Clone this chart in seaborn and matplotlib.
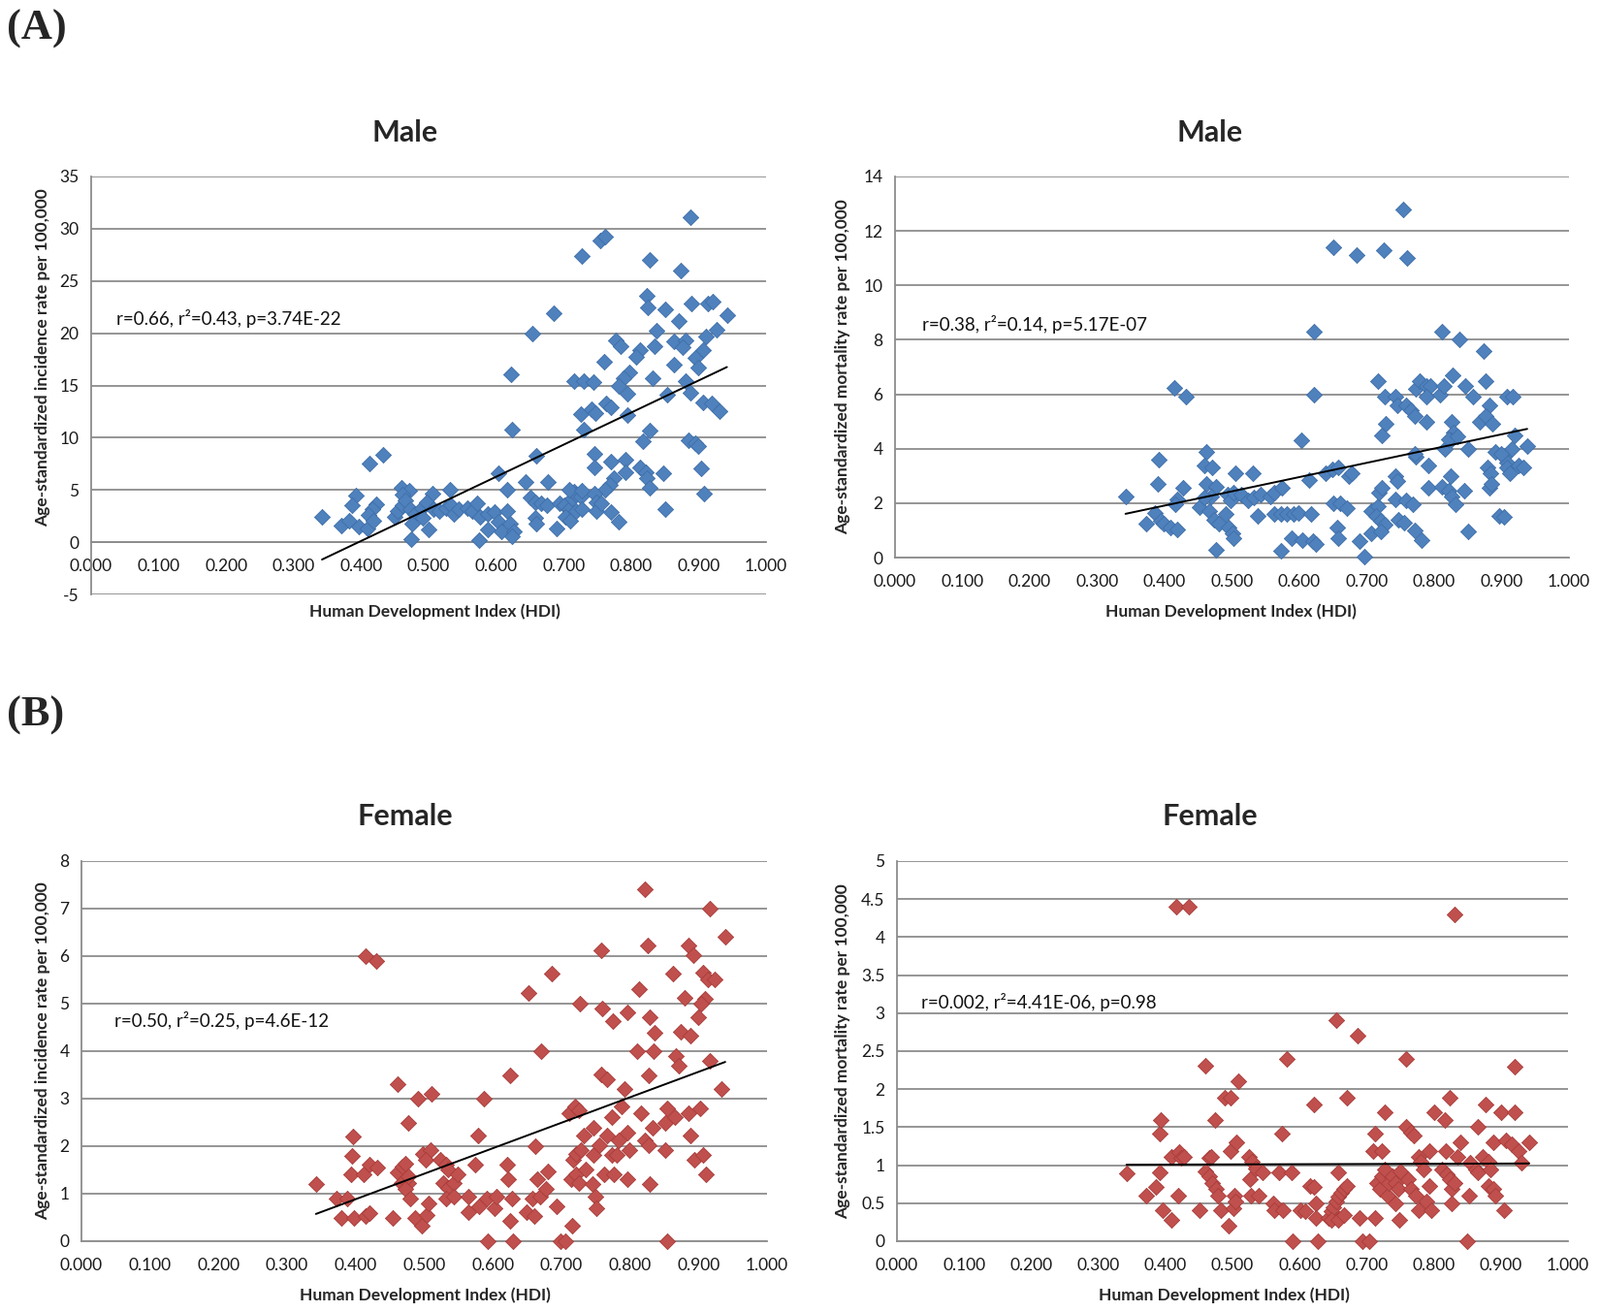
import numpy as np
import pandas as pd
import seaborn as sns
import matplotlib.pyplot as plt
from matplotlib.ticker import FuncFormatter

sns.set_style('white')
plt.rcParams['font.family'] = ['Lato', 'DejaVu Sans']

# (HDI, rate) pairs
male_incidence = [
    (0.888, 31.1), (0.754, 28.9), (0.761, 29.2), (0.727, 27.4), (0.828, 27.0), (0.873, 26.0),
    (0.823, 23.6), (0.825, 22.5), (0.850, 22.3), (0.889, 22.8), (0.914, 22.8), (0.921, 23.0),
    (0.942, 21.7), (0.686, 21.9), (0.653, 20.0), (0.870, 21.2), (0.837, 20.2), (0.926, 20.3),
    (0.911, 19.7), (0.777, 19.3), (0.785, 18.8), (0.835, 18.8), (0.864, 19.2), (0.881, 19.3),
    (0.876, 18.7), (0.813, 18.4), (0.807, 17.7), (0.907, 18.4), (0.760, 17.3), (0.895, 17.6),
    (0.900, 16.7), (0.864, 17.0), (0.797, 16.3), (0.789, 15.7), (0.782, 15.0), (0.622, 16.1),
    (0.715, 15.4), (0.730, 15.4), (0.744, 15.3), (0.832, 15.7), (0.881, 15.4), (0.888, 14.3),
    (0.794, 14.2), (0.854, 14.1), (0.763, 13.3), (0.770, 12.9), (0.725, 12.3), (0.742, 12.7),
    (0.747, 12.4), (0.907, 13.4), (0.919, 13.3), (0.931, 12.5), (0.794, 12.2), (0.730, 10.8),
    (0.623, 10.8), (0.828, 10.7), (0.818, 9.7), (0.885, 9.8), (0.895, 9.5), (0.900, 9.2),
    (0.433, 8.4), (0.412, 7.5), (0.659, 8.3), (0.745, 8.5), (0.745, 7.2), (0.770, 7.7),
    (0.792, 7.9), (0.792, 6.7), (0.813, 7.2), (0.822, 6.7), (0.823, 6.1), (0.828, 5.2),
    (0.847, 6.6), (0.903, 7.1), (0.603, 6.6), (0.643, 5.8), (0.676, 5.8), (0.908, 4.7),
    (0.775, 6.1), (0.768, 5.5), (0.761, 5.0), (0.617, 5.0), (0.531, 5.0), (0.506, 4.7),
    (0.459, 5.2), (0.471, 4.9), (0.461, 4.6), (0.392, 4.5), (0.387, 3.5), (0.423, 3.6),
    (0.416, 3.2), (0.342, 2.4), (0.370, 1.6), (0.382, 2.1), (0.397, 1.5), (0.409, 1.3),
    (0.411, 2.6), (0.418, 2.1), (0.449, 2.4), (0.454, 3.0), (0.461, 3.5), (0.466, 4.0),
    (0.473, 3.2), (0.480, 2.7), (0.476, 1.8), (0.474, 0.3), (0.490, 3.3), (0.497, 3.8),
    (0.492, 2.3), (0.500, 1.2), (0.507, 3.2), (0.516, 3.0), (0.526, 3.3), (0.533, 3.5),
    (0.538, 2.7), (0.545, 3.2), (0.557, 3.3), (0.564, 3.0), (0.572, 3.7), (0.576, 2.4),
    (0.574, 0.2), (0.588, 2.7), (0.598, 2.9), (0.603, 2.0), (0.588, 1.2), (0.607, 1.0),
    (0.617, 3.0), (0.620, 1.8), (0.627, 1.0), (0.624, 0.6), (0.651, 4.3), (0.658, 3.8),
    (0.667, 3.7), (0.675, 3.5), (0.658, 2.3), (0.660, 1.8), (0.689, 1.3), (0.694, 3.7),
    (0.701, 3.5), (0.708, 3.2), (0.713, 4.2), (0.715, 4.8), (0.718, 4.6), (0.725, 4.4),
    (0.703, 2.4), (0.710, 2.1), (0.718, 3.0), (0.727, 3.2), (0.708, 5.0), (0.727, 4.9),
    (0.746, 4.7), (0.749, 3.8), (0.749, 3.0), (0.756, 3.7), (0.770, 2.9), (0.782, 2.0),
    (0.851, 3.2),
]

male_mortality = [
    (0.754, 12.8), (0.651, 11.4), (0.685, 11.1), (0.725, 11.3), (0.760, 11.0), (0.621, 8.3),
    (0.811, 8.3), (0.837, 8.0), (0.873, 7.6), (0.414, 6.25), (0.432, 5.9), (0.621, 6.0),
    (0.716, 6.5), (0.876, 6.5), (0.726, 5.9), (0.742, 5.9), (0.745, 5.6), (0.759, 5.6),
    (0.766, 5.4), (0.771, 5.2), (0.773, 6.2), (0.779, 6.5), (0.789, 6.3), (0.794, 6.3),
    (0.789, 5.9), (0.808, 6.0), (0.815, 6.3), (0.827, 6.7), (0.846, 6.3), (0.858, 5.9),
    (0.882, 5.6), (0.908, 5.9), (0.789, 5.0), (0.826, 5.0), (0.867, 5.0), (0.876, 5.2),
    (0.886, 4.9), (0.728, 4.9), (0.723, 4.5), (0.603, 4.3), (0.829, 4.6), (0.824, 4.3),
    (0.891, 3.9), (0.903, 3.7), (0.908, 3.5), (0.816, 4.0), (0.850, 4.0), (0.773, 3.7),
    (0.792, 3.4), (0.879, 3.3), (0.884, 3.1), (0.908, 3.3), (0.912, 3.1), (0.462, 3.9),
    (0.459, 3.4), (0.471, 3.3), (0.392, 3.6), (0.390, 2.7), (0.505, 3.1), (0.531, 3.1),
    (0.462, 2.7), (0.476, 2.6), (0.469, 2.25), (0.428, 2.55), (0.418, 2.15), (0.416, 1.95),
    (0.342, 2.25), (0.385, 1.65), (0.373, 1.25), (0.394, 1.35), (0.399, 1.25), (0.409, 1.1),
    (0.418, 1.05), (0.452, 1.85), (0.459, 2.2), (0.466, 1.7), (0.474, 1.4), (0.481, 1.25),
    (0.490, 1.6), (0.493, 2.3), (0.498, 2.1), (0.502, 2.4), (0.495, 1.1), (0.500, 0.9),
    (0.502, 0.7), (0.476, 0.3), (0.514, 2.3), (0.524, 2.1), (0.533, 2.2), (0.543, 2.3),
    (0.557, 2.25), (0.562, 2.4), (0.574, 2.55), (0.538, 1.55), (0.562, 1.6), (0.572, 1.6),
    (0.581, 1.6), (0.591, 1.6), (0.598, 1.65), (0.617, 1.6), (0.572, 0.25), (0.589, 0.7),
    (0.605, 0.65), (0.620, 0.6), (0.624, 0.5), (0.615, 2.85), (0.639, 3.1), (0.649, 3.25),
    (0.658, 3.3), (0.673, 3.0), (0.678, 3.1), (0.651, 2.0), (0.661, 2.0), (0.670, 1.8),
    (0.656, 1.1), (0.658, 0.7), (0.689, 0.6), (0.706, 0.9), (0.696, 0.05), (0.706, 1.7),
    (0.716, 1.9), (0.718, 2.4), (0.723, 2.55), (0.714, 1.55), (0.721, 1.35), (0.726, 1.2),
    (0.721, 0.95), (0.742, 3.0), (0.745, 2.8), (0.742, 2.15), (0.759, 2.1), (0.768, 1.95),
    (0.747, 1.4), (0.756, 1.3), (0.771, 1.0), (0.782, 0.65), (0.771, 3.8), (0.792, 2.55),
    (0.811, 2.6), (0.821, 2.45), (0.826, 2.25), (0.831, 1.95), (0.824, 3.0), (0.845, 2.45),
    (0.850, 0.95), (0.882, 2.55), (0.885, 2.7), (0.897, 1.55), (0.821, 4.35), (0.835, 4.45),
    (0.917, 5.9), (0.938, 4.1), (0.925, 3.4), (0.932, 3.3), (0.903, 1.5), (0.920, 4.5),
    (0.915, 4.0), (0.900, 3.8),
]

female_incidence = [
    (0.822, 7.41), (0.917, 7.0), (0.939, 6.4), (0.414, 6.0), (0.430, 5.9), (0.758, 6.12),
    (0.826, 6.22), (0.885, 6.22), (0.892, 6.02), (0.863, 5.63), (0.907, 5.65), (0.914, 5.51),
    (0.923, 5.51), (0.686, 5.63), (0.652, 5.22), (0.813, 5.31), (0.880, 5.12), (0.909, 5.1),
    (0.904, 5.0), (0.727, 5.0), (0.759, 4.9), (0.775, 4.63), (0.796, 4.82), (0.900, 4.71),
    (0.829, 4.71), (0.836, 4.39), (0.874, 4.41), (0.888, 4.32), (0.811, 4.0), (0.834, 4.0),
    (0.671, 4.0), (0.867, 3.9), (0.871, 3.7), (0.917, 3.8),
    (0.342, 1.21), (0.372, 0.9), (0.387, 0.9), (0.396, 2.21), (0.394, 1.79), (0.393, 1.40),
    (0.379, 0.49), (0.398, 0.49), (0.411, 1.40), (0.415, 0.52), (0.420, 0.59), (0.420, 1.61),
    (0.431, 1.54), (0.454, 0.49), (0.461, 3.30), (0.461, 1.44), (0.468, 1.57), (0.472, 1.64),
    (0.467, 1.23), (0.476, 1.23), (0.472, 1.1), (0.480, 0.9), (0.476, 1.37), (0.476, 2.49),
    (0.491, 3.0), (0.511, 3.1), (0.498, 1.84), (0.509, 1.91), (0.502, 1.71), (0.487, 0.49),
    (0.497, 0.32), (0.504, 0.56), (0.506, 0.79), (0.524, 1.71), (0.532, 1.61), (0.535, 1.5),
    (0.528, 1.23), (0.535, 1.13), (0.543, 1.23), (0.532, 0.9), (0.543, 0.93), (0.549, 1.40),
    (0.565, 0.93), (0.565, 0.62), (0.574, 1.61), (0.578, 2.22), (0.580, 0.73), (0.587, 3.0),
    (0.591, 0.9), (0.593, 0.0), (0.602, 0.69), (0.606, 0.93), (0.621, 1.61), (0.622, 1.30),
    (0.625, 3.48), (0.628, 0.9), (0.625, 0.42), (0.630, 0.0), (0.649, 0.62), (0.658, 0.9),
    (0.660, 0.52), (0.662, 2.0), (0.665, 1.3), (0.669, 0.93), (0.677, 1.1), (0.680, 1.47),
    (0.693, 0.73), (0.699, 0.0), (0.706, 0.0), (0.715, 0.32), (0.712, 2.69), (0.720, 2.83),
    (0.725, 2.76), (0.714, 1.30), (0.721, 1.40), (0.725, 1.23), (0.717, 1.71), (0.721, 1.84),
    (0.729, 1.91), (0.732, 2.22), (0.736, 1.5), (0.747, 2.39), (0.745, 1.20), (0.749, 0.93),
    (0.751, 0.69), (0.747, 1.81), (0.755, 2.01), (0.758, 3.51), (0.766, 3.40), (0.762, 1.40),
    (0.766, 2.22), (0.773, 2.62), (0.773, 1.81), (0.781, 1.81), (0.777, 1.40), (0.784, 2.12),
    (0.788, 2.83), (0.792, 3.2), (0.796, 2.28), (0.799, 1.91), (0.796, 1.30), (0.816, 2.69),
    (0.822, 2.12), (0.827, 2.01), (0.828, 3.48), (0.829, 1.20), (0.833, 2.39), (0.851, 2.49),
    (0.855, 2.79), (0.851, 1.91), (0.854, 0.0), (0.866, 2.62), (0.885, 2.69), (0.888, 2.22),
    (0.894, 1.71), (0.907, 1.81), (0.903, 2.79), (0.911, 1.40), (0.933, 3.2),
]

female_mortality = [
    (0.416, 4.40), (0.435, 4.40), (0.831, 4.30), (0.654, 2.91), (0.686, 2.70),
    (0.342, 0.89), (0.372, 0.60), (0.386, 0.71), (0.391, 0.90), (0.391, 1.41), (0.393, 1.60),
    (0.396, 0.41), (0.409, 0.28), (0.409, 1.11), (0.420, 1.17), (0.424, 1.09), (0.428, 1.11),
    (0.419, 0.60), (0.451, 0.41), (0.459, 2.31), (0.459, 0.92), (0.465, 1.09), (0.468, 1.11),
    (0.466, 0.86), (0.470, 0.77), (0.475, 0.69), (0.479, 0.60), (0.474, 1.60), (0.482, 0.41),
    (0.489, 1.89), (0.497, 1.89), (0.494, 0.20), (0.497, 1.19), (0.501, 0.43), (0.503, 0.60),
    (0.505, 0.52), (0.506, 1.30), (0.509, 2.11), (0.524, 1.11), (0.529, 1.05), (0.534, 0.96),
    (0.526, 0.81), (0.528, 0.60), (0.539, 0.60), (0.545, 0.90), (0.560, 0.50), (0.562, 0.41),
    (0.570, 0.90), (0.588, 0.90), (0.574, 1.41), (0.575, 0.41), (0.581, 2.40), (0.589, 0.0),
    (0.601, 0.41), (0.608, 0.39), (0.616, 0.73), (0.621, 0.71), (0.622, 1.80), (0.624, 0.50),
    (0.624, 0.31), (0.627, 0.0), (0.643, 0.31), (0.647, 0.39), (0.651, 0.45), (0.654, 0.52),
    (0.658, 0.58), (0.662, 0.64), (0.666, 0.69), (0.670, 0.73), (0.658, 0.90), (0.647, 0.28),
    (0.658, 0.28), (0.666, 0.35), (0.671, 1.89), (0.689, 0.31), (0.693, 0.0), (0.704, 0.0),
    (0.712, 0.31), (0.712, 1.41), (0.710, 1.19), (0.723, 1.19), (0.716, 0.77), (0.720, 0.69),
    (0.723, 0.86), (0.727, 0.94), (0.731, 0.60), (0.733, 0.77), (0.727, 1.70), (0.739, 0.86),
    (0.743, 0.77), (0.747, 0.69), (0.750, 0.92), (0.743, 0.50), (0.748, 0.28), (0.758, 1.51),
    (0.766, 1.43), (0.770, 1.39), (0.762, 0.81), (0.766, 0.69), (0.773, 0.60), (0.777, 1.11),
    (0.781, 1.05), (0.785, 0.94), (0.777, 0.41), (0.789, 0.52), (0.793, 0.73), (0.793, 1.19),
    (0.796, 0.41), (0.800, 1.70), (0.816, 1.60), (0.818, 1.19), (0.812, 0.94), (0.819, 0.88),
    (0.823, 0.81), (0.827, 0.69), (0.831, 0.77), (0.823, 1.89), (0.826, 0.50), (0.835, 1.11),
    (0.839, 1.30), (0.850, 0.0), (0.852, 0.60), (0.854, 1.03), (0.862, 0.94), (0.866, 0.90),
    (0.866, 1.51), (0.873, 1.11), (0.881, 1.05), (0.885, 0.94), (0.877, 1.80), (0.881, 0.73),
    (0.889, 0.69), (0.892, 0.60), (0.889, 1.30), (0.900, 1.70), (0.921, 1.70), (0.904, 0.41),
    (0.908, 1.32), (0.916, 1.28), (0.927, 1.19), (0.931, 1.03), (0.942, 1.30), (0.758, 2.40),
    (0.921, 2.30),
]

panel_titles = ['Male', 'Male', 'Female', 'Female']
stat_texts = ['r=0.66, r\u00b2=0.43, p=3.74E-22',
              'r=0.38, r\u00b2=0.14, p=5.17E-07',
              'r=0.50, r\u00b2=0.25, p=4.6E-12',
              'r=0.002, r\u00b2=4.41E-06, p=0.98']
y_labels = ['Age-standardized incidence rate per 100,000',
            'Age-standardized mortality rate per 100,000',
            'Age-standardized incidence rate per 100,000',
            'Age-standardized mortality rate per 100,000']
x_label = 'Human Development Index (HDI)'

BLUE = '#4f81bd'
RED = '#c0504d'
GRID = '#8c8c8c'

fig = plt.figure(figsize=(16.5, 13.53), dpi=100)

panels = [
    # data, colour, edge, axes rect, yticks, text pos, xlabel pos, ylabel pos
    (male_incidence, BLUE, '#3f6fa8', [0.0570, 0.5469, 0.4218, 0.3186], np.arange(-5, 36, 5),
     (0.037, 0.661), (0.509, -0.042), (-0.072, 0.568)),
    (male_mortality, BLUE, '#3f6fa8', [0.5594, 0.5750, 0.4212, 0.2905], np.arange(0, 15, 2),
     (0.040, 0.613), (0.499, -0.142), (-0.078, 0.5)),
    (female_incidence, RED, '#a83c3a', [0.0509, 0.0540, 0.4285, 0.2897], np.arange(0, 9, 1),
     (0.048, 0.580), (0.502, -0.143), (-0.057, 0.5)),
    (female_mortality, RED, '#a83c3a', [0.5606, 0.0540, 0.4194, 0.2897], np.arange(0, 5.01, 0.5),
     (0.036, 0.630), (0.487, -0.143), (-0.081, 0.5)),
]

for i, (pairs, col, edge, rect, yticks, tpos, xlpos, ylpos) in enumerate(panels):
    df = pd.DataFrame(pairs, columns=['hdi', 'rate'])
    ax = fig.add_axes(rect)
    sns.regplot(data=df, x='hdi', y='rate', ax=ax, ci=None, marker='D',
                scatter_kws=dict(s=68, color=col, edgecolors=edge, linewidths=0.6,
                                 alpha=1, clip_on=False, zorder=3),
                line_kws=dict(color='black', lw=1.4, zorder=4))
    ax.set_xlim(0, 1.0)
    ax.set_ylim(yticks[0], yticks[-1])
    ax.set_xticks(np.arange(0, 1.01, 0.1))
    ax.set_yticks(yticks)
    ax.xaxis.set_major_formatter(FuncFormatter(lambda v, p: '%.3f' % v))
    ax.yaxis.set_major_formatter(FuncFormatter(lambda v, p: '%g' % v))
    ax.yaxis.grid(True, color=GRID, lw=1.3)
    ax.xaxis.grid(False)
    ax.set_axisbelow(True)
    for s in ['top', 'right']:
        ax.spines[s].set_visible(False)
    for s in ['left', 'bottom']:
        ax.spines[s].set_color(GRID)
        ax.spines[s].set_linewidth(1.3)
    if yticks[0] < 0:
        ax.spines['bottom'].set_position(('data', 0))
    ax.tick_params(axis='both', direction='out', length=5, width=1, color=GRID,
                   labelsize=12.5, labelcolor='#1a1a1a', pad=4)
    ax.tick_params(axis='x', pad=7)

    ax.set_xlabel(x_label, fontsize=12.5, fontweight='bold', va='center')
    ax.xaxis.set_label_coords(*xlpos)
    ax.set_ylabel(y_labels[i], fontsize=12.5, fontweight='bold', va='center')
    ax.yaxis.set_label_coords(*ylpos)

    ax.text(tpos[0], tpos[1], stat_texts[i], transform=ax.transAxes,
            fontsize=13.5, va='center', ha='left', color='#111111')

title_pos = [(0.253, 0.899), (0.756, 0.899), (0.253, 0.378), (0.756, 0.378)]
for (tx, ty), t in zip(title_pos, panel_titles):
    fig.text(tx, ty, t, fontsize=22, fontweight='bold', ha='center', va='center')

fig.text(0.004, 0.978, '(A)', fontsize=32, fontweight='bold',
         family=['Liberation Serif', 'DejaVu Serif'], ha='left', va='center')
fig.text(0.004, 0.455, '(B)', fontsize=32, fontweight='bold',
         family=['Liberation Serif', 'DejaVu Serif'], ha='left', va='center')

fig.savefig('out.png', dpi=100, facecolor='white')
